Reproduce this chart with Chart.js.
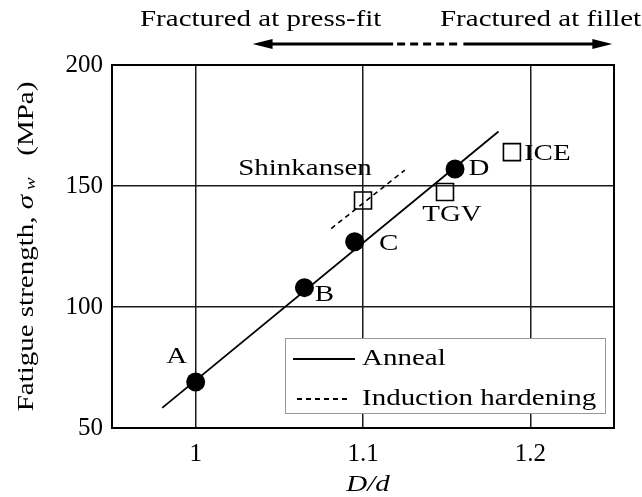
<!DOCTYPE html>
<html>
<head>
<meta charset="utf-8">
<script src="https://cdn.jsdelivr.net/npm/chart.js@4.4.0/dist/chart.umd.min.js"></script>
<style>
  html, body { margin: 0; padding: 0; background: #fff; }
</style>
</head>
<body>
<canvas id="chart" width="642" height="497"></canvas>
<script>
// tick values / labels
const xTicks = [1, 1.1, 1.2];
const xTickLabels = ['1', '1.1', '1.2'];
const yTicks = [50, 100, 150, 200];

// annealed axles (filled circles)
const annealLabels = ['A', 'B', 'C', 'D'];
const annealX = [1.0, 1.065, 1.095, 1.155];
const annealY = [69, 108, 127, 157];

// induction hardened service axles (open squares)
const trainLabels = ['Shinkansen', 'TGV', 'ICE'];
const trainX = [1.10, 1.149, 1.189];
const trainY = [144, 147.5, 164];

// trend lines
const annealFitX = [0.98, 1.181];
const annealFitY = [58.3, 172.5];
const inductionFitX = [1.081, 1.125];
const inductionFitY = [132.4, 156.6];

// fracture mode arrow along D/d: left tip, dash start, dash end, right tip
const fractureArrowX = [1.034, 1.118, 1.16, 1.249];

const SERIF = '"Liberation Serif", "Times New Roman", serif';
const STRETCH = 1.26; // the print font is wider than Times

function toPoints(xs, ys) {
  return xs.map((x, i) => ({ x: x, y: ys[i] }));
}

function wideText(ctx, text, x, y, size, align, italic) {
  ctx.save();
  ctx.font = (italic ? 'italic ' : '') + size + 'px ' + SERIF;
  ctx.textBaseline = 'middle';
  ctx.textAlign = 'left';
  ctx.translate(x, y);
  ctx.scale(STRETCH, 1);
  const w = ctx.measureText(text).width;
  let dx = 0;
  if (align === 'center') dx = -w / 2;
  else if (align === 'right') dx = -w;
  ctx.fillText(text, dx, 0);
  ctx.restore();
  return w * STRETCH;
}

function textWidth(ctx, text, size, italic) {
  ctx.save();
  ctx.font = (italic ? 'italic ' : '') + size + 'px ' + SERIF;
  const w = ctx.measureText(text).width * STRETCH;
  ctx.restore();
  return w;
}

// label offsets in px from the marker centre
const labelStyle = {
  A: { dx: -19, dy: -25, align: 'center' },
  B: { dx: 20, dy: 7, align: 'center' },
  C: { dx: 34, dy: 2, align: 'center' },
  D: { dx: 24, dy: 0, align: 'center' },
  Shinkansen: { dx: -58, dy: -32, align: 'center' },
  TGV: { dx: 7, dy: 23, align: 'center' },
  ICE: { dx: 12, dy: 2, align: 'left' }
};

const overlay = {
  id: 'overlay',
  beforeDatasetsDraw(chart) {
    const { ctx, chartArea: a } = chart;
    ctx.save();
    ctx.strokeStyle = '#000';
    ctx.lineWidth = 2;
    ctx.strokeRect(a.left, a.top, a.right - a.left, a.bottom - a.top);
    ctx.restore();
  },
  afterDraw(chart) {
    const { ctx, chartArea: a } = chart;
    const xs = chart.scales.x, ys = chart.scales.y;
    ctx.save();
    ctx.fillStyle = '#000';

    // point labels
    annealLabels.forEach((t, i) => {
      const s = labelStyle[t];
      wideText(ctx, t, xs.getPixelForValue(annealX[i]) + s.dx, ys.getPixelForValue(annealY[i]) + s.dy, 23, s.align);
    });
    trainLabels.forEach((t, i) => {
      const s = labelStyle[t];
      wideText(ctx, t, xs.getPixelForValue(trainX[i]) + s.dx, ys.getPixelForValue(trainY[i]) + s.dy, 23, s.align);
    });

    // legend box
    const lx = a.left + 173, ly = a.bottom - 90, lw = 320, lh = 75;
    ctx.fillStyle = '#fff';
    ctx.fillRect(lx, ly, lw, lh);
    ctx.strokeStyle = '#999';
    ctx.lineWidth = 1;
    ctx.strokeRect(lx + 0.5, ly + 0.5, lw, lh);
    const ds = chart.data.datasets;
    [0, 1].forEach((di, k) => {
      const yy = ly + 21 + k * 40;
      ctx.strokeStyle = '#000';
      ctx.lineWidth = 1.8;
      ctx.setLineDash(ds[di].borderDash || []);
      ctx.beginPath();
      ctx.moveTo(lx + (k ? 12 : 8), yy);
      ctx.lineTo(lx + (k ? 66 : 70), yy);
      ctx.stroke();
      ctx.setLineDash([]);
      ctx.fillStyle = '#000';
      wideText(ctx, ds[di].label, lx + 77, yy, 23, 'left');
    });

    // x title
    wideText(ctx, 'D/d', (a.left + a.right) / 2 + 5, 485, 23, 'center', true);

    // y title, rotated, with subscript w
    const p1 = 'Fatigue strength, ', p2 = '\u03c3', p3 = 'w', p4 = '   (MPa)';
    const w1 = textWidth(ctx, p1, 23), w2 = textWidth(ctx, p2, 23, true);
    const w3 = textWidth(ctx, p3, 15, true), w4 = textWidth(ctx, p4, 23);
    const total = w1 + w2 + 5 + w3 + w4;
    ctx.save();
    ctx.translate(27, (a.top + a.bottom) / 2);
    ctx.rotate(-Math.PI / 2);
    let cx = -total / 2;
    ctx.fillStyle = '#000';
    wideText(ctx, p1, cx, 0, 23, 'left'); cx += w1;
    wideText(ctx, p2, cx, 0, 23, 'left', true); cx += w2 + 5;
    wideText(ctx, p3, cx, 4, 15, 'left', true); cx += w3;
    wideText(ctx, p4, cx, 0, 23, 'left');
    ctx.restore();

    // fracture mode arrow
    const ay = 44;
    const [xl, xd0, xd1, xr] = fractureArrowX.map(v => xs.getPixelForValue(v));
    ctx.strokeStyle = '#000';
    ctx.fillStyle = '#000';
    ctx.lineWidth = 3;
    ctx.beginPath();
    ctx.moveTo(xl + 14, ay); ctx.lineTo(xd0, ay);
    ctx.moveTo(xd1, ay); ctx.lineTo(xr - 14, ay);
    ctx.stroke();
    ctx.setLineDash([8, 5]);
    ctx.beginPath();
    ctx.moveTo(xd0 + 4, ay); ctx.lineTo(xd1 - 2, ay);
    ctx.stroke();
    ctx.setLineDash([]);
    ctx.beginPath();
    ctx.moveTo(xl, ay); ctx.lineTo(xl + 20, ay - 5); ctx.lineTo(xl + 20, ay + 5); ctx.closePath();
    ctx.moveTo(xr, ay); ctx.lineTo(xr - 20, ay - 5); ctx.lineTo(xr - 20, ay + 5); ctx.closePath();
    ctx.fill();

    wideText(ctx, 'Fractured at press-fit', 140, 20, 23, 'left');
    wideText(ctx, 'Fractured at fillet', 440, 20, 23, 'left');
    ctx.restore();
  }
};

new Chart(document.getElementById('chart'), {
  type: 'scatter',
  data: {
    datasets: [
      {
        label: 'Anneal',
        data: toPoints(annealFitX, annealFitY),
        showLine: true,
        borderColor: '#000',
        borderWidth: 1.8,
        pointRadius: 0,
        fill: false
      },
      {
        label: 'Induction hardening',
        data: toPoints(inductionFitX, inductionFitY),
        showLine: true,
        borderColor: '#000',
        borderWidth: 1.6,
        borderDash: [5, 4],
        pointRadius: 0,
        fill: false
      },
      {
        label: 'Annealed axles',
        data: toPoints(annealX, annealY),
        pointStyle: 'circle',
        pointRadius: 9.5,
        backgroundColor: '#000',
        borderColor: '#000',
        borderWidth: 0
      },
      {
        label: 'Service axles',
        data: toPoints(trainX, trainY),
        pointStyle: 'rect',
        pointRadius: 12,
        backgroundColor: 'rgba(0,0,0,0)',
        borderColor: '#000',
        borderWidth: 1.6
      }
    ]
  },
  options: {
    responsive: false,
    animation: false,
    devicePixelRatio: 1,
    layout: { padding: { top: 65, right: 28, left: 0, bottom: 0 } },
    plugins: {
      legend: { display: false },
      tooltip: { enabled: false }
    },
    scales: {
      x: {
        type: 'linear',
        min: 0.95,
        max: 1.25,
        afterBuildTicks: s => { s.ticks = xTicks.map(v => ({ value: v })); },
        afterFit: s => { s.height = 69; },
        grid: { color: '#1a1a1a', lineWidth: 1.5, drawTicks: false },
        border: { color: '#000', width: 2 },
        ticks: {
          padding: 11,
          color: '#000',
          font: { family: SERIF, size: 25 },
          callback: v => xTickLabels[xTicks.indexOf(v)]
        }
      },
      y: {
        type: 'linear',
        min: 50,
        max: 200,
        afterBuildTicks: s => { s.ticks = yTicks.map(v => ({ value: v })); },
        afterFit: s => { s.width = 112; },
        grid: { color: '#1a1a1a', lineWidth: 1.5, drawTicks: false },
        border: { color: '#000', width: 2 },
        ticks: {
          padding: 9,
          color: '#000',
          font: { family: SERIF, size: 25 }
        }
      }
    }
  },
  plugins: [overlay]
});
</script>
</body>
</html>
